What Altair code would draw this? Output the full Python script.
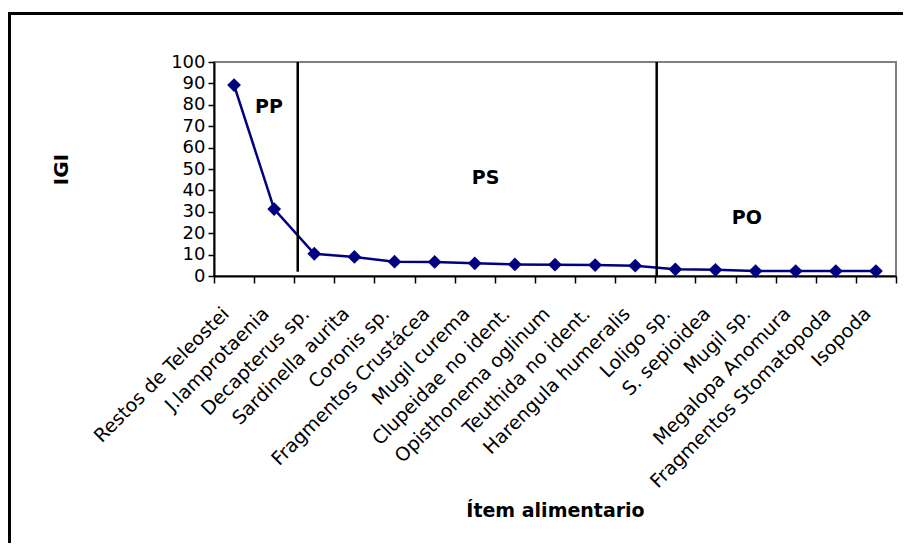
import altair as alt
import pandas as pd

# ---- data ----
items = [
    "Restos de Teleostei", "J.lamprotaenia", "Decapterus sp.", "Sardinella aurita",
    "Coronis sp.", "Fragmentos Crustácea", "Mugil curema", "Clupeidae no ident.",
    "Opisthonema oglinum", "Teuthida no ident.", "Harengula humeralis", "Loligo sp.",
    "S. sepioidea", "Mugil sp.", "Megalopa Anomura", "Fragmentos Stomatopoda", "Isopoda",
]
igi = [89.2, 31.3, 10.4, 8.9, 6.7, 6.6, 5.9, 5.4, 5.3, 5.1, 4.8, 3.1, 2.9, 2.3, 2.3, 2.3, 2.3]

divider_items = ["Decapterus sp.", "Loligo sp."]
divider_top = [100, 100]
divider_bottom = [2, 0]

zone_labels = ["PP", "PS", "PO"]
zone_items = ["J.lamprotaenia", "Mugil curema", "Mugil sp."]
zone_y = [79, 46, 27]

y_ticks = list(range(0, 101, 10))

# ---- tables ----
df = pd.DataFrame({"item": items, "igi": igi})
df_div = pd.DataFrame({"item": divider_items, "top": divider_top, "bottom": divider_bottom})

FONT = "DejaVu Sans"
NAVY = "#000080"
x_scale = alt.Scale(type="band", domain=items, paddingInner=0, paddingOuter=0)
y_scale = alt.Scale(domain=[0, 100], nice=False)

x_axis = alt.Axis(
    title="Ítem alimentario", titleFont=FONT, titleFontSize=19, titleFontWeight="bold",
    titleColor="black", titleY=240, titleBaseline="alphabetic",
    labelAngle=315, labelAlign="right", labelBaseline="top", labelFont=FONT,
    labelFontSize=19, labelColor="black", labelPadding=21, labelOffset=-15, labelLimit=400,
    labelOverlap=False, tickBand="extent", tickSize=7, tickColor="black", tickWidth=1.5,
    domainColor="black", domainWidth=2, grid=False,
)
y_axis = alt.Axis(
    title="IGI", titleFont=FONT, titleFontSize=20, titleFontWeight="bold", titleColor="black",
    titleX=-153, titleY=107, titleAngle=270, titleBaseline="middle", titleAlign="center",
    values=y_ticks, tickCount=11, labelFont=FONT, labelFontSize=18, labelColor="black",
    labelPadding=3, labelOverlap=False, tickSize=6, tickColor="black", tickWidth=1.5,
    domainColor="black", domainWidth=2, grid=False,
)

frame_left = alt.Chart(alt.Data(values=[{}])).mark_rule(color="black", strokeWidth=3).encode(
    x=alt.value(-204.5), y=alt.value(-50), y2=alt.value(700)
)
frame_top = alt.Chart(alt.Data(values=[{}])).mark_rule(color="black", strokeWidth=3).encode(
    x=alt.value(-206), x2=alt.value(900), y=alt.value(-48.5)
)

base = alt.Chart(df)
line = base.mark_line(color=NAVY, strokeWidth=2.5).encode(
    x=alt.X("item:N", sort=items, scale=x_scale, axis=x_axis),
    y=alt.Y("igi:Q", scale=y_scale, axis=y_axis),
)
points = base.mark_point(shape="diamond", filled=True, size=190, color=NAVY, opacity=1).encode(
    x=alt.X("item:N", sort=items, scale=x_scale, axis=x_axis),
    y=alt.Y("igi:Q", scale=y_scale, axis=y_axis),
)

div_band = [0.087, 0.035]
dividers = []
for i in range(len(divider_items)):
    dividers.append(
        alt.Chart(df_div.iloc[[i]]).mark_rule(color="black", strokeWidth=2.5).encode(
            x=alt.X("item:N", sort=items, scale=x_scale, bandPosition=div_band[i], axis=x_axis),
            y=alt.Y("top:Q", scale=y_scale, axis=y_axis),
            y2="bottom:Q",
        )
    )

zone_band = [0.37, 0.77, 0.28]
zones = []
for i in range(len(zone_labels)):
    dfz = pd.DataFrame({"item": [zone_items[i]], "y": [zone_y[i]], "label": [zone_labels[i]]})
    zones.append(
        alt.Chart(dfz).mark_text(
            font=FONT, fontSize=19, fontWeight="bold", color="black",
            align="center", baseline="middle",
        ).encode(
            x=alt.X("item:N", sort=items, scale=x_scale, bandPosition=zone_band[i], axis=x_axis),
            y=alt.Y("y:Q", scale=y_scale, axis=y_axis),
            text="label:N",
        )
    )

chart = alt.layer(line, *dividers, points, *zones, frame_left, frame_top).properties(
    width=682, height=214,
    autosize=alt.AutoSizeParams(type="none"),
    padding={"left": 206, "top": 54, "right": 7, "bottom": 267},
    background="white",
).configure_view(stroke="#808080", strokeWidth=2)

chart.save("out.html", embed_options={"renderer": "svg", "actions": False})
